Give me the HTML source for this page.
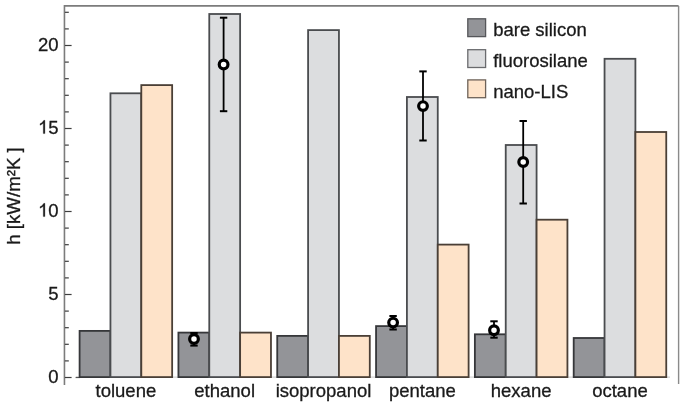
<!DOCTYPE html>
<html><head><meta charset="utf-8"><style>
html,body{margin:0;padding:0;background:#fff;width:685px;height:407px;overflow:hidden}
svg{display:block;will-change:transform}
</style></head><body>
<svg width="685" height="407" viewBox="0 0 685 407">
<rect width="685" height="407" fill="#fff"/>
<line x1="76" y1="377.1" x2="670" y2="377.1" stroke="#c8c8c8" stroke-width="1"/>
<line x1="75.6" y1="377.5" x2="80" y2="377.5" stroke="#555" stroke-width="1.2"/>
<rect x="79.60" y="330.90" width="30.85" height="46.20" fill="#939498" stroke="#36373a" stroke-width="1.8"/>
<rect x="110.45" y="93.30" width="30.85" height="283.80" fill="#dcdddf" stroke="#4a4c4f" stroke-width="1.8"/>
<rect x="141.30" y="85.10" width="30.85" height="292.00" fill="#fee3c9" stroke="#4a3f36" stroke-width="1.8"/>
<rect x="178.42" y="332.60" width="30.85" height="44.50" fill="#939498" stroke="#36373a" stroke-width="1.8"/>
<rect x="209.27" y="14.00" width="30.85" height="363.10" fill="#dcdddf" stroke="#4a4c4f" stroke-width="1.8"/>
<rect x="240.12" y="332.60" width="30.85" height="44.50" fill="#fee3c9" stroke="#4a3f36" stroke-width="1.8"/>
<rect x="277.24" y="335.90" width="30.85" height="41.20" fill="#939498" stroke="#36373a" stroke-width="1.8"/>
<rect x="308.09" y="30.10" width="30.85" height="347.00" fill="#dcdddf" stroke="#4a4c4f" stroke-width="1.8"/>
<rect x="338.94" y="335.90" width="30.85" height="41.20" fill="#fee3c9" stroke="#4a3f36" stroke-width="1.8"/>
<rect x="376.06" y="326.10" width="30.85" height="51.00" fill="#939498" stroke="#36373a" stroke-width="1.8"/>
<rect x="406.91" y="97.00" width="30.85" height="280.10" fill="#dcdddf" stroke="#4a4c4f" stroke-width="1.8"/>
<rect x="437.76" y="244.60" width="30.85" height="132.50" fill="#fee3c9" stroke="#4a3f36" stroke-width="1.8"/>
<rect x="474.88" y="334.30" width="30.85" height="42.80" fill="#939498" stroke="#36373a" stroke-width="1.8"/>
<rect x="505.73" y="145.00" width="30.85" height="232.10" fill="#dcdddf" stroke="#4a4c4f" stroke-width="1.8"/>
<rect x="536.58" y="219.70" width="30.85" height="157.40" fill="#fee3c9" stroke="#4a3f36" stroke-width="1.8"/>
<rect x="573.70" y="338.00" width="30.85" height="39.10" fill="#939498" stroke="#36373a" stroke-width="1.8"/>
<rect x="604.55" y="58.80" width="30.85" height="318.30" fill="#dcdddf" stroke="#4a4c4f" stroke-width="1.8"/>
<rect x="635.40" y="132.00" width="30.85" height="245.10" fill="#fee3c9" stroke="#4a3f36" stroke-width="1.8"/>
<line x1="194.0" y1="333.0" x2="194.0" y2="345.6" stroke="#000" stroke-width="1.8"/>
<line x1="190.3" y1="333.0" x2="197.7" y2="333.0" stroke="#000" stroke-width="2"/>
<line x1="190.3" y1="345.6" x2="197.7" y2="345.6" stroke="#000" stroke-width="2"/>
<circle cx="194.0" cy="339.0" r="4.35" fill="#fff" stroke="#000" stroke-width="3.2"/>
<line x1="223.6" y1="17.7" x2="223.6" y2="111.2" stroke="#000" stroke-width="1.8"/>
<line x1="219.9" y1="17.7" x2="227.29999999999998" y2="17.7" stroke="#000" stroke-width="2"/>
<line x1="219.9" y1="111.2" x2="227.29999999999998" y2="111.2" stroke="#000" stroke-width="2"/>
<circle cx="223.6" cy="64.5" r="4.35" fill="#fff" stroke="#000" stroke-width="3.2"/>
<line x1="393.1" y1="316.0" x2="393.1" y2="329.5" stroke="#000" stroke-width="1.8"/>
<line x1="389.40000000000003" y1="316.0" x2="396.8" y2="316.0" stroke="#000" stroke-width="2"/>
<line x1="389.40000000000003" y1="329.5" x2="396.8" y2="329.5" stroke="#000" stroke-width="2"/>
<circle cx="393.1" cy="322.6" r="4.35" fill="#fff" stroke="#000" stroke-width="3.2"/>
<line x1="423.0" y1="71.4" x2="423.0" y2="140.5" stroke="#000" stroke-width="1.8"/>
<line x1="419.3" y1="71.4" x2="426.7" y2="71.4" stroke="#000" stroke-width="2"/>
<line x1="419.3" y1="140.5" x2="426.7" y2="140.5" stroke="#000" stroke-width="2"/>
<circle cx="423.0" cy="106.1" r="4.35" fill="#fff" stroke="#000" stroke-width="3.2"/>
<line x1="494.0" y1="321.3" x2="494.0" y2="337.7" stroke="#000" stroke-width="1.8"/>
<line x1="490.3" y1="321.3" x2="497.7" y2="321.3" stroke="#000" stroke-width="2"/>
<line x1="490.3" y1="337.7" x2="497.7" y2="337.7" stroke="#000" stroke-width="2"/>
<circle cx="494.0" cy="330.3" r="4.35" fill="#fff" stroke="#000" stroke-width="3.2"/>
<line x1="523.2" y1="121.0" x2="523.2" y2="203.5" stroke="#000" stroke-width="1.8"/>
<line x1="519.5" y1="121.0" x2="526.9000000000001" y2="121.0" stroke="#000" stroke-width="2"/>
<line x1="519.5" y1="203.5" x2="526.9000000000001" y2="203.5" stroke="#000" stroke-width="2"/>
<circle cx="523.2" cy="162.0" r="4.35" fill="#fff" stroke="#000" stroke-width="3.2"/>
<path d="M64.45 385 V5.9 H678.6" fill="none" stroke="#7c7c7c" stroke-width="1.6"/>
<path d="M678.6 5.9 V384" fill="none" stroke="#8a8a8a" stroke-width="1.4"/>
<line x1="64.9" y1="377.50" x2="71.6" y2="377.50" stroke="#3e3e3e" stroke-width="1.2"/>
<text x="48.31" y="382.60" font-family='"Liberation Sans", sans-serif' font-size="18.5" fill="#1a1a1a" stroke="#1a1a1a" stroke-width="0.3">0</text>
<line x1="64.9" y1="360.90" x2="68.8" y2="360.90" stroke="#3e3e3e" stroke-width="1.2"/>
<line x1="64.9" y1="344.30" x2="68.8" y2="344.30" stroke="#3e3e3e" stroke-width="1.2"/>
<line x1="64.9" y1="327.70" x2="68.8" y2="327.70" stroke="#3e3e3e" stroke-width="1.2"/>
<line x1="64.9" y1="311.10" x2="68.8" y2="311.10" stroke="#3e3e3e" stroke-width="1.2"/>
<line x1="64.9" y1="294.50" x2="71.6" y2="294.50" stroke="#3e3e3e" stroke-width="1.2"/>
<text x="48.31" y="299.60" font-family='"Liberation Sans", sans-serif' font-size="18.5" fill="#1a1a1a" stroke="#1a1a1a" stroke-width="0.3">5</text>
<line x1="64.9" y1="277.90" x2="68.8" y2="277.90" stroke="#3e3e3e" stroke-width="1.2"/>
<line x1="64.9" y1="261.30" x2="68.8" y2="261.30" stroke="#3e3e3e" stroke-width="1.2"/>
<line x1="64.9" y1="244.70" x2="68.8" y2="244.70" stroke="#3e3e3e" stroke-width="1.2"/>
<line x1="64.9" y1="228.10" x2="68.8" y2="228.10" stroke="#3e3e3e" stroke-width="1.2"/>
<line x1="64.9" y1="211.50" x2="71.6" y2="211.50" stroke="#3e3e3e" stroke-width="1.2"/>
<path transform="translate(38.02 216.60) scale(0.009033 -0.009033)" d="M583 0 L583 1147 Q470 1040 223 924 L223 1098 Q400 1180 500 1290 Q600 1390 643 1466 L763 1466 L763 0 Z" fill="#1a1a1a" stroke="#1a1a1a" stroke-width="33.2"/>
<text x="48.31" y="216.60" font-family='"Liberation Sans", sans-serif' font-size="18.5" fill="#1a1a1a" stroke="#1a1a1a" stroke-width="0.3">0</text>
<line x1="64.9" y1="194.90" x2="68.8" y2="194.90" stroke="#3e3e3e" stroke-width="1.2"/>
<line x1="64.9" y1="178.30" x2="68.8" y2="178.30" stroke="#3e3e3e" stroke-width="1.2"/>
<line x1="64.9" y1="161.70" x2="68.8" y2="161.70" stroke="#3e3e3e" stroke-width="1.2"/>
<line x1="64.9" y1="145.10" x2="68.8" y2="145.10" stroke="#3e3e3e" stroke-width="1.2"/>
<line x1="64.9" y1="128.50" x2="71.6" y2="128.50" stroke="#3e3e3e" stroke-width="1.2"/>
<path transform="translate(38.02 133.60) scale(0.009033 -0.009033)" d="M583 0 L583 1147 Q470 1040 223 924 L223 1098 Q400 1180 500 1290 Q600 1390 643 1466 L763 1466 L763 0 Z" fill="#1a1a1a" stroke="#1a1a1a" stroke-width="33.2"/>
<text x="48.31" y="133.60" font-family='"Liberation Sans", sans-serif' font-size="18.5" fill="#1a1a1a" stroke="#1a1a1a" stroke-width="0.3">5</text>
<line x1="64.9" y1="111.90" x2="68.8" y2="111.90" stroke="#3e3e3e" stroke-width="1.2"/>
<line x1="64.9" y1="95.30" x2="68.8" y2="95.30" stroke="#3e3e3e" stroke-width="1.2"/>
<line x1="64.9" y1="78.70" x2="68.8" y2="78.70" stroke="#3e3e3e" stroke-width="1.2"/>
<line x1="64.9" y1="62.10" x2="68.8" y2="62.10" stroke="#3e3e3e" stroke-width="1.2"/>
<line x1="64.9" y1="45.50" x2="71.6" y2="45.50" stroke="#3e3e3e" stroke-width="1.2"/>
<text x="38.02" y="50.60" font-family='"Liberation Sans", sans-serif' font-size="18.5" fill="#1a1a1a" stroke="#1a1a1a" stroke-width="0.3">2</text>
<text x="48.31" y="50.60" font-family='"Liberation Sans", sans-serif' font-size="18.5" fill="#1a1a1a" stroke="#1a1a1a" stroke-width="0.3">0</text>
<line x1="64.9" y1="28.90" x2="68.8" y2="28.90" stroke="#3e3e3e" stroke-width="1.2"/>
<line x1="64.9" y1="12.30" x2="68.8" y2="12.30" stroke="#3e3e3e" stroke-width="1.2"/>
<text x="125.88" y="397.3" text-anchor="middle" font-family='"Liberation Sans", sans-serif' font-size="18.5" fill="#1a1a1a" stroke="#1a1a1a" stroke-width="0.3">toluene</text>
<text x="224.69" y="397.3" text-anchor="middle" font-family='"Liberation Sans", sans-serif' font-size="18.5" fill="#1a1a1a" stroke="#1a1a1a" stroke-width="0.3">ethanol</text>
<text x="323.51" y="397.3" text-anchor="middle" font-family='"Liberation Sans", sans-serif' font-size="18.5" fill="#1a1a1a" stroke="#1a1a1a" stroke-width="0.3">isopropanol</text>
<text x="422.33" y="397.3" text-anchor="middle" font-family='"Liberation Sans", sans-serif' font-size="18.5" fill="#1a1a1a" stroke="#1a1a1a" stroke-width="0.3">pentane</text>
<text x="521.15" y="397.3" text-anchor="middle" font-family='"Liberation Sans", sans-serif' font-size="18.5" fill="#1a1a1a" stroke="#1a1a1a" stroke-width="0.3">hexane</text>
<text x="619.97" y="397.3" text-anchor="middle" font-family='"Liberation Sans", sans-serif' font-size="18.5" fill="#1a1a1a" stroke="#1a1a1a" stroke-width="0.3">octane</text>
<text transform="translate(19.8 196.0) rotate(-90)" text-anchor="middle" font-family='"Liberation Sans", sans-serif' font-size="18.7" fill="#1a1a1a" stroke="#1a1a1a" stroke-width="0.3">h [kW/m²K ]</text>
<rect x="467.8" y="18.80" width="17.8" height="17.8" fill="#939498" stroke="#55565a" stroke-width="1.3"/>
<text x="493.2" y="36.0" font-family='"Liberation Sans", sans-serif' font-size="18.5" fill="#1a1a1a" stroke="#1a1a1a" stroke-width="0.3">bare silicon</text>
<rect x="467.8" y="49.70" width="17.8" height="17.8" fill="#dcdddf" stroke="#6a6b6e" stroke-width="1.3"/>
<text x="493.2" y="66.7" font-family='"Liberation Sans", sans-serif' font-size="18.5" fill="#1a1a1a" stroke="#1a1a1a" stroke-width="0.3">fluorosilane</text>
<rect x="467.8" y="79.90" width="17.8" height="17.8" fill="#fee3c9" stroke="#6e6258" stroke-width="1.3"/>
<text x="493.2" y="97.7" font-family='"Liberation Sans", sans-serif' font-size="18.5" fill="#1a1a1a" stroke="#1a1a1a" stroke-width="0.3">nano-LIS</text>
</svg>
</body></html>
